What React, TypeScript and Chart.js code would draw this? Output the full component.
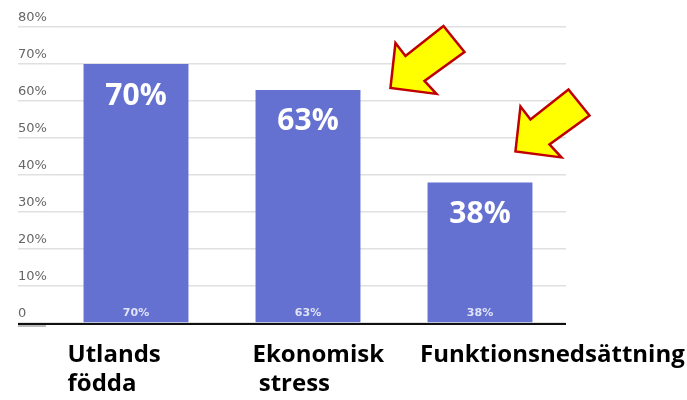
import React, { useEffect, useRef } from "react";
import { Chart, registerables } from "chart.js";

Chart.register(...registerables);

const categories: string[][] = [["Utlands", "födda"], ["Ekonomisk", " stress"], ["Funktionsnedsättning"]];
const values: number[] = [70, 63, 38];
const yTickLabels: string[] = ["0", "10%", "20%", "30%", "40%", "50%", "60%", "70%", "80%"];

// layout / style settings (not data)
const BAR_COLOR = "#6571d1";
const GRID_COLOR = "#e0e0e0";
const labelLeftOffsets = [-68.5, -55.5, -60];
const arrowAnchors = [
  { bar: 1, dx: 30, dy: -2 },
  { bar: 2, dx: -17, dy: -31 },
];
const arrowShape: [number, number][] = [
  [0, 0], [5, -45], [15, -32], [53, -62], [74, -36], [34, -7], [46, 6],
];

const overlayPlugin = {
  id: "overlay",
  afterDatasetsDraw(chart: any) {
    const ctx = chart.ctx as CanvasRenderingContext2D;
    const meta = chart.getDatasetMeta(0);
    const area = chart.chartArea;
    const yScale = chart.scales.y;
    ctx.save();
    // value labels
    meta.data.forEach((bar: any, i: number) => {
      const v = values[i];
      ctx.fillStyle = "#ffffff";
      ctx.textAlign = "center";
      ctx.textBaseline = "middle";
      ctx.font = "bold 30px 'Open Sans'";
      ctx.fillText(v + "%", bar.x, bar.y + 32);
      ctx.fillStyle = "rgba(255,255,255,0.8)";
      ctx.font = "bold 11px 'DejaVu Sans'";
      ctx.fillText(v + "%", bar.x, yScale.getPixelForValue(0) - 10);
    });
    // baseline
    const y0 = yScale.getPixelForValue(0);
    ctx.strokeStyle = "#bdbdbd";
    ctx.lineWidth = 2;
    ctx.beginPath();
    ctx.moveTo(18, y0 + 3);
    ctx.lineTo(46, y0 + 3);
    ctx.stroke();
    ctx.strokeStyle = "#111111";
    ctx.lineWidth = 2;
    ctx.beginPath();
    ctx.moveTo(18, y0 + 1);
    ctx.lineTo(area.right, y0 + 1);
    ctx.stroke();
    // category labels
    ctx.fillStyle = "#000000";
    ctx.textAlign = "left";
    ctx.textBaseline = "middle";
    ctx.font = "bold 24px 'Open Sans'";
    meta.data.forEach((bar: any, i: number) => {
      categories[i].forEach((line, j) => {
        ctx.fillText(line, bar.x + labelLeftOffsets[i], 355 + j * 29);
      });
    });
    // arrows
    arrowAnchors.forEach((a) => {
      const bar: any = meta.data[a.bar];
      const tx = bar.x + bar.width / 2 + a.dx;
      const ty = bar.y + a.dy;
      ctx.beginPath();
      arrowShape.forEach(([px, py], k) => {
        if (k === 0) ctx.moveTo(tx + px, ty + py);
        else ctx.lineTo(tx + px, ty + py);
      });
      ctx.closePath();
      ctx.fillStyle = "#ffff00";
      ctx.fill();
      ctx.strokeStyle = "#c00000";
      ctx.lineWidth = 2.5;
      ctx.lineJoin = "miter";
      ctx.stroke();
    });
    ctx.restore();
  },
};

export default function App() {
  const ref = useRef<HTMLCanvasElement | null>(null);
  useEffect(() => {
    if (!ref.current) return;
    const chart = new Chart(ref.current, {
      type: "bar",
      data: {
        labels: categories.map((c) => c.join(" ")),
        datasets: [
          {
            data: values,
            backgroundColor: BAR_COLOR,
            categoryPercentage: 1,
            barPercentage: 0.61,
          },
        ],
      },
      options: {
        animation: false,
        responsive: false,
        devicePixelRatio: 1,
        layout: { padding: { left: 18, top: 27, right: 121, bottom: 77 } },
        plugins: { legend: { display: false }, tooltip: { enabled: false } },
        scales: {
          x: {
            display: false,
          },
          y: {
            min: 0,
            max: 80,
            ticks: {
              stepSize: 10,
              crossAlign: "far",
              labelOffset: -9,
              color: "#666666",
              font: { family: "DejaVu Sans", size: 13 },
              callback: (_v: any, i: number) => yTickLabels[i],
            },
            grid: { color: GRID_COLOR, lineWidth: 1.5, tickLength: 32 },
            border: { display: false },
            afterFit: (s: any) => {
              s.width = 32;
            },
          },
        },
      },
      plugins: [overlayPlugin],
    });
    return () => chart.destroy();
  }, []);
  return (
    <div style={{ position: "absolute", left: 0, top: 0, width: 687, height: 400, background: "#fff" }}>
      <canvas ref={ref} width={687} height={400} style={{ width: 687, height: 400 }} />
    </div>
  );
}
